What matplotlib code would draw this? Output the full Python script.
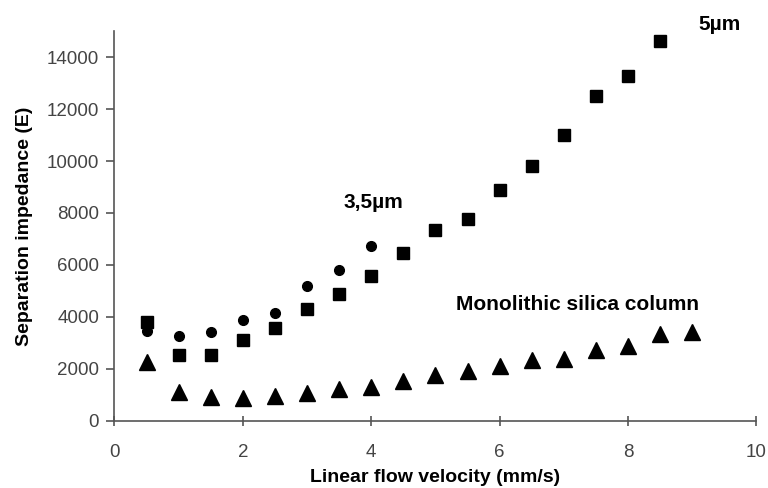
import matplotlib
matplotlib.use("Agg")
import matplotlib.pyplot as plt

plt.rcParams['font.family'] = ['Liberation Sans', 'DejaVu Sans']

# 3,5 µm particles (circles)
x_35 = [0.5, 1.0, 1.5, 2.0, 2.5, 3.0, 3.5, 4.0]
y_35 = [3450, 3250, 3400, 3860, 4140, 5200, 5820, 6720]

# 5 µm particles (squares)
x_5 = [0.5, 1.0, 1.5, 2.0, 2.5, 3.0, 3.5, 4.0, 4.5, 5.0, 5.5, 6.0, 6.5, 7.0, 7.5, 8.0, 8.5]
y_5 = [3790, 2530, 2530, 3090, 3570, 4290, 4860, 5590, 6450, 7350, 7780, 8870, 9810, 11000, 12500, 13290, 14620]

# Monolithic silica column (triangles)
x_mono = [0.5, 1.0, 1.5, 2.0, 2.5, 3.0, 3.5, 4.0, 4.5, 5.0, 5.5, 6.0, 6.5, 7.0, 7.5, 8.0, 8.5, 9.0]
y_mono = [2250, 1090, 930, 860, 940, 1050, 1220, 1310, 1510, 1740, 1900, 2100, 2350, 2380, 2720, 2890, 3340, 3430]

xticks = [0, 2, 4, 6, 8, 10]
yticks = [0, 2000, 4000, 6000, 8000, 10000, 12000, 14000]

fig = plt.figure(figsize=(7.68, 4.88), dpi=100)
ax = fig.add_axes([0.149, 0.138, 0.836, 0.798])

ax.plot(x_35, y_35, 'o', color='black', ms=7, mec='black')
ax.plot(x_5, y_5, 's', color='black', ms=8, mec='black')
ax.plot(x_mono, y_mono, '^', color='black', ms=11, mec='black')

ax.set_xlim(0, 10)
ax.set_ylim(0, 15000)
ax.set_xticks(xticks)
ax.set_yticks(yticks)

for s in ['top', 'right']:
    ax.spines[s].set_visible(False)
for s in ['left', 'bottom']:
    ax.spines[s].set_color('#555555')
    ax.spines[s].set_linewidth(1.2)

ax.tick_params(axis='x', direction='inout', length=7, width=1.2, color='#555555',
               labelsize=13.5, labelcolor='#444444', pad=13)
ax.tick_params(axis='y', direction='out', length=6, width=1.2, color='#555555',
               labelsize=13.5, labelcolor='#444444', pad=5)

ax.set_xlabel('Linear flow velocity (mm/s)', fontsize=14, fontweight='bold', labelpad=6)
ax.set_ylabel('Separation impedance (E)', fontsize=14, fontweight='bold', labelpad=10)

ax.annotate('5µm', xy=(9.42, 15250), fontsize=15, fontweight='bold', ha='center', va='center',
            annotation_clip=False)
ax.text(4.04, 8390, '3,5µm', fontsize=15, fontweight='bold', ha='center', va='center')
ax.text(7.21, 4455, 'Monolithic silica column', fontsize=15, fontweight='bold', ha='center', va='center')

fig.savefig('out.png', dpi=100)
